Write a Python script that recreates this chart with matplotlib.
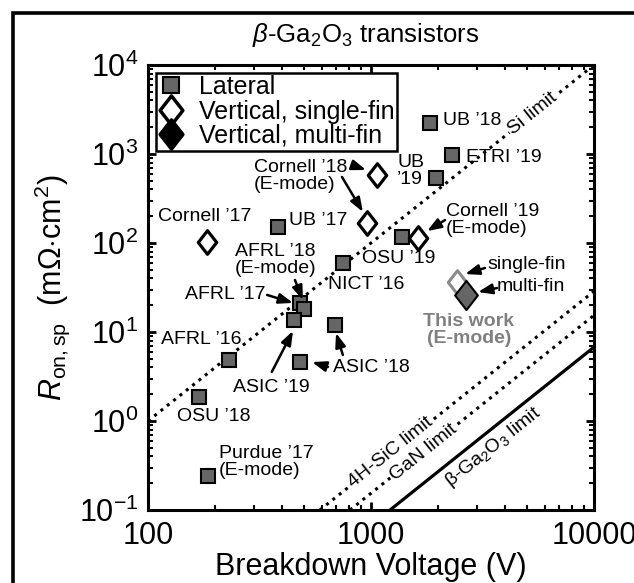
import numpy as np
import matplotlib.pyplot as plt
from matplotlib.path import Path
from matplotlib.lines import Line2D
from matplotlib.patches import Rectangle

plt.rcParams['font.family'] = ['Liberation Sans', 'DejaVu Sans']
plt.rcParams['mathtext.fontset'] = 'custom'
plt.rcParams['mathtext.rm'] = 'Liberation Sans'
plt.rcParams['mathtext.it'] = 'Liberation Sans:italic'
plt.rcParams['mathtext.bf'] = 'Liberation Sans:bold'
plt.rcParams['axes.unicode_minus'] = False

# lateral transistors (breakdown V, Ron,sp mOhm.cm2)
lat_names = ["UB '18", "ETRI '19", "UB '19", "UB '17", "OSU '19", "NICT '16",
             "AFRL '17", "AFRL '18", "ASIC '19", "ASIC '18", "ASIC '18b",
             "AFRL '16", "OSU '18", "Purdue '17"]
lat_bv = [1840, 2305, 1955, 383, 1377, 749, 481, 501, 452, 690, 481, 231, 170, 185]
lat_ron = [2230, 975, 537, 151, 117, 59.6, 21.2, 18.1, 13.6, 12.0, 4.6, 4.9, 1.84, 0.242]

# vertical single-fin
vs_names = ["Cornell '17", "Cornell '18", "Cornell '18 E", "Cornell '19 E"]
vs_bv = [184, 1065, 960, 1626]
vs_ron = [103, 581, 168, 114]

# this work
tw_single_bv, tw_single_ron = [2420], [36.7]
tw_multi_bv, tw_multi_ron = [2667], [26.1]

# material limits (end points)
si_v, si_r = [100, 10000], [1.0, 10000]
sic_v, sic_r = [590, 10000], [0.1, 28.7]
gan_v, gan_r = [805, 10000], [0.1, 15.4]
ga_v, ga_r = [1217, 10000], [0.1, 6.76]

W, H = 634, 583
fig = plt.figure(figsize=(W / 100, H / 100), dpi=100)
ax = fig.add_axes([148 / W, 1 - 510 / H, 446 / W, 445 / H])
ax.set_xscale('log')
ax.set_yscale('log')
ax.set_xlim(100, 10000)
ax.set_ylim(0.1, 10000)

diamond = Path([(0, 1), (0.78, 0), (0, -1), (-0.78, 0), (0, 1)],
               [Path.MOVETO, Path.LINETO, Path.LINETO, Path.LINETO, Path.CLOSEPOLY])

gray = '#666666'

# limit lines
ax.plot(si_v, si_r, ':', color='k', lw=2.2)
ax.plot(sic_v, sic_r, ':', color='k', lw=2.2)
ax.plot(gan_v, gan_r, ':', color='k', lw=2.2)
ax.plot(ga_v, ga_r, '-', color='k', lw=2.3)

ax.plot(lat_bv, lat_ron, 's', ms=10.5, mfc=gray, mec='k', mew=1.5, ls='none', zorder=3)
ax.plot(vs_bv, vs_ron, ls='none', marker=diamond, ms=17, mfc='white', mec='k', mew=2.3, zorder=4)
ax.plot(tw_single_bv, tw_single_ron, ls='none', marker=diamond, ms=17, mfc='white',
        mec='#8a8a8a', mew=2.2, zorder=4)
ax.plot(tw_multi_bv, tw_multi_ron, ls='none', marker=diamond, ms=21, mfc=gray,
        mec='k', mew=1.5, zorder=5)

# ticks
ax.set_xticks([100, 1000, 10000])
ax.set_xticklabels(['100', '1000', '10000'])
ax.tick_params(which='both', direction='in', top=True, right=True, labelsize=22)
ax.tick_params(which='major', length=6, width=2)
ax.tick_params(which='minor', length=3.5, width=1.5)
ax.tick_params(axis='x', pad=8)
ax.tick_params(axis='y', pad=7)
for s in ax.spines.values():
    s.set_linewidth(2.2)

ax.set_xlabel('Breakdown Voltage (V)', fontsize=22, labelpad=1)
ax.set_ylabel(r'$R_{\mathrm{on,sp}}$  (m$\Omega$$\cdot$cm$^2$)', fontsize=22)
ax.yaxis.set_label_coords(-0.17, 0.5)

fig.text(366 / W, 1 - 35 / H, r'$\beta$-Ga$_2$O$_3$ transistors', fontsize=18.5,
         ha='center', va='center')

# angle of slope-2 lines on screen
p = ax.transData.transform([(100, 1), (10000, 10000)])
ang = np.degrees(np.arctan2(p[1, 1] - p[0, 1], p[1, 0] - p[0, 0]))

fs = 14
wb = dict(fc='white', ec='none', pad=1.0)
ax.text(5320, 2838, 'Si limit', fontsize=fs, rotation=ang, rotation_mode='anchor',
        ha='center', va='center', bbox=wb)
ax.text(1220, 0.44, '4H-SiC limit', fontsize=fs, rotation=ang, rotation_mode='anchor',
        ha='center', va='center', bbox=wb)
ax.text(1720, 0.44, 'GaN limit', fontsize=fs, rotation=ang, rotation_mode='anchor',
        ha='center', va='center', bbox=wb)
ax.text(3524, 0.51, 'β-Ga$_2$O$_3$ limit', fontsize=fs, rotation=ang, rotation_mode='anchor',
        ha='center', va='center')

q = '\u2019'
def lab(x, y, s, ha='left', **kw):
    ax.text(x, y, s.replace("'", q), fontsize=fs, ha=ha, va='center',
            linespacing=1.0, **kw)

lab(2100, 2410, "UB '18")
lab(2667, 925, "ETRI '19")
lab(1309, 644, "UB\n'19")
lab(298.5, 573, "Cornell '18\n(E-mode)")
lab(179, 196, "Cornell '17", ha='center')
lab(429, 181, "UB '17")
lab(245, 64.4, "AFRL '18\n(E-mode)")
lab(335, 26.7, "AFRL '17", ha='right')
lab(641, 34.6, "NICT '16")
lab(912, 67.8, "OSU '19")
lab(2168, 183.6, "Cornell '19\n(E-mode)")
lab(3311, 56.6, "single-fin")
lab(3672, 32.1, "multi-fin")
lab(114, 8.3, "AFRL '16")
lab(356, 2.35, "ASIC '19", ha='center')
lab(676, 3.99, "ASIC '18")
lab(198, 1.11, "OSU '18", ha='center')
lab(208, 0.346, "Purdue '17\n(E-mode)")
ax.text(2748, 10.4, 'This work\n(E-mode)', fontsize=fs, fontweight='bold', color='#808080',
        ha='center', va='center', linespacing=1.0)

arrows = [((822, 752), (950, 661)), ((741, 552), (920, 223)),
          ((456, 38.4), (495, 22.9)), ((342, 26.1), (447, 21.2)),
          ((2148, 181), (1783, 136)), ((3243, 52.4), (2642, 44.8)),
          ((3673, 31.2), (3020, 28.1)), ((359, 3.56), (447, 10.3)),
          ((641, 4.05), (544, 4.6)), ((748, 5.52), (697, 9.75))]
for a, b in arrows:
    ax.annotate('', xy=b, xytext=a,
                arrowprops=dict(arrowstyle='-|>,head_length=0.6,head_width=0.22',
                                color='k', lw=1.8, shrinkA=0, shrinkB=0,
                                mutation_scale=14), zorder=6)

handles = [Line2D([], [], ls='none', marker='s', ms=11, mfc=gray, mec='k', mew=1.5),
           Line2D([], [], ls='none', marker=diamond, ms=21, mfc='white', mec='k', mew=2.5),
           Line2D([], [], ls='none', marker=diamond, ms=21, mfc='k', mec='k', mew=2.5)]
leg = ax.legend(handles, ['Lateral', 'Vertical, single-fin', 'Vertical, multi-fin'],
                loc='upper left', fontsize=18, frameon=True, fancybox=False,
                edgecolor='k', framealpha=1, borderpad=0.1, labelspacing=0.02,
                handlelength=1.0, handletextpad=0.65, borderaxespad=0.3)
leg.get_frame().set_linewidth(1.8)
leg.set_zorder(10)

fig.patches.append(Rectangle((13 / W, -1), 2, 1 + (1 - 13 / H), transform=fig.transFigure,
                             fill=False, lw=2.6, ec='k', clip_on=False))

fig.savefig('out.png', dpi=100)
